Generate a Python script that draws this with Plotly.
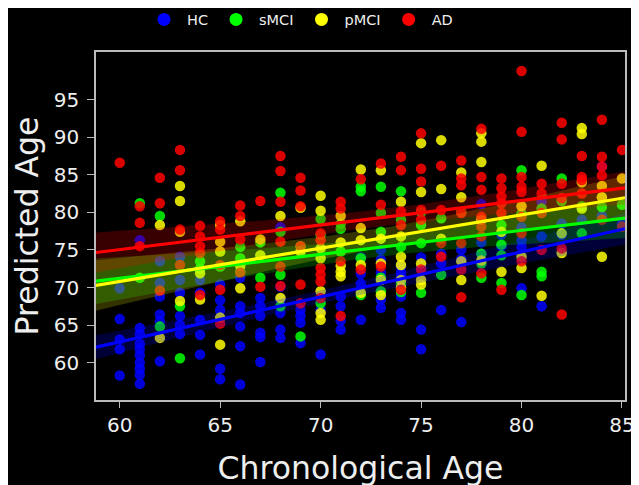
import numpy as np
import plotly.graph_objects as go

# ---------------- data (age -> predicted ages) ----------------
hc_ages = [60, 61, 62, 63, 64, 65, 66, 67, 68, 69, 70, 71, 72, 73, 74, 75, 76, 77,
           78, 79, 80, 81, 82, 83, 84, 85]
hc_vals = [
    [69.9, 65.8, 63.1, 61.8, 58.3],
    [76.3, 64.6, 63.8, 62.5, 61.8, 61.0, 60.0, 59.2, 58.4, 57.2],
    [73.5, 70.6, 68.8, 66.4, 65.5, 60.2],
    [74.1, 71.0, 69.3, 66.2, 65.0, 63.8],
    [71.0, 69.3, 65.7, 63.7, 61.1],
    [70.4, 68.3, 67.0, 59.2, 57.8],
    [71.3, 67.5, 66.6, 64.8, 62.2, 57.1],
    [68.6, 67.5, 66.2, 64.0, 63.4, 60.1],
    [78.0, 70.1, 68.4, 66.6, 64.4, 63.3],
    [67.0, 66.2, 65.3, 62.6],
    [67.0, 61.1],
    [68.8, 67.5, 65.6, 64.4],
    [74.0, 71.8, 70.5, 65.7],
    [75.0, 73.7, 72.0, 68.4, 67.3],
    [72.8, 72.0, 71.4, 68.8, 66.6, 65.7],
    [74.0, 72.6, 64.4, 61.8],
    [74.5, 73.2, 67.0],
    [75.0, 73.8, 65.4],
    [81.1, 76.0, 74.5],
    [77.0, 75.5],
    [78.0, 76.3, 75.4, 69.9],
    [81.4, 76.8, 67.5],
    [78.5, 77.0],
    [79.0],
    [86.1, 79.5],
    [78.5],
]

smci_ages = [61, 62, 63, 64, 65, 66, 67, 68, 69, 70, 71, 72, 73, 74, 75, 76, 77, 78, 79,
             80, 81, 82, 83, 84, 85]
smci_vals = [
    [81.2, 71.3],
    [79.5, 64.8],
    [67.5, 60.6],
    [73.5, 72.5],
    [72.8],
    [75.4, 73.9, 72.1],
    [76.0, 71.3],
    [82.6, 77.4, 71.7, 67.5],
    [75.5, 63.5],
    [79.1, 77.0, 67.9],
    [78.5, 77.8, 74.8],
    [83.4, 82.8, 73.9, 69.0],
    [83.4, 79.9, 77.4, 71.3, 69.5],
    [82.8, 79.0, 75.4, 70.5, 69.4],
    [80.0, 78.3, 75.9, 69.3],
    [79.2, 71.7],
    [80.0],
    [74.5, 73.2, 71.3],
    [78.3, 75.7, 74.3, 70.6],
    [85.6, 79.8, 69.0],
    [80.5, 72.1, 71.5],
    [84.5, 81.5],
    [80.8, 77.2],
    [82.0, 80.7],
    [81.0],
]

pmci_ages = [62, 63, 64, 65, 66, 67, 68, 69, 70, 71, 72, 73, 74, 75, 76, 77, 78, 79,
             80, 81, 82, 83, 84, 85]
pmci_vals = [
    [78.3, 63.3],
    [83.5, 81.5, 77.4, 68.2],
    [71.9, 68.4],
    [78.3, 76.1, 74.8, 66.0, 62.4],
    [78.8, 72.9, 69.9],
    [76.4, 74.3],
    [79.5, 68.6],
    [80.6, 74.8],
    [82.2, 80.2, 75.2, 73.9, 69.5, 66.6, 65.7],
    [79.5, 76.0, 72.9, 72.1, 71.5],
    [85.7, 77.9, 76.3, 73.0, 69.3],
    [85.6, 76.5, 73.2, 71.0, 69.0],
    [81.4, 76.8, 74.1, 73.0, 71.0, 70.0],
    [89.2, 82.7, 73.2, 71.0, 70.4],
    [89.6, 83.1, 76.5],
    [85.3, 82.0, 73.5, 71.0],
    [90.5, 89.4, 86.7, 79.0, 73.6],
    [77.4, 72.1],
    [80.8, 74.1, 72.6],
    [86.2, 68.9],
    [77.2, 74.6],
    [91.2, 90.4, 84.0, 80.5],
    [83.5, 82.0, 74.1],
    [84.5],
]

ad_ages = [60, 61, 62, 63, 64, 65, 66, 67, 68, 69, 70, 71, 72, 73, 74, 75, 76, 77, 78,
           79, 80, 81, 82, 83, 84, 85]
ad_vals = [
    [86.6],
    [80.8, 78.6, 75.5],
    [84.6, 81.2, 69.6],
    [88.3, 85.6, 77.7, 73.0],
    [78.2, 76.8, 75.5, 74.6, 69.0],
    [78.8, 77.7, 73.0, 69.7, 65.2],
    [80.9, 79.5, 76.4, 72.0],
    [81.5, 70.1],
    [87.5, 85.5, 81.4, 76.1, 72.8, 70.2],
    [84.6, 82.9, 80.8, 75.5, 70.4, 67.9],
    [77.2, 76.3, 72.6, 71.7, 70.8, 68.6],
    [81.4, 80.5, 73.5, 66.2],
    [84.4, 72.4],
    [86.5, 81.0, 72.8],
    [87.4, 85.6, 80.1, 78.3, 69.7],
    [90.5, 85.8, 84.1, 80.3, 79.0, 72.4],
    [86.2, 80.3, 75.9, 74.1],
    [86.9, 84.5, 83.6, 79.9, 75.9, 72.4, 68.7],
    [91.1, 84.7, 83.0, 79.4, 78.1, 76.8, 71.9],
    [84.5, 83.2, 82.1, 81.2, 79.9, 69.7],
    [98.8, 90.7, 84.7, 83.4, 82.7, 79.4, 77.2, 73.5],
    [83.8, 82.5, 79.9, 75.0],
    [91.9, 89.7, 83.8, 81.9, 75.2, 66.4],
    [87.5, 84.7, 84.3, 82.5],
    [92.3, 87.4, 86.1, 84.9, 79.0],
    [88.3, 78.1],
]

groups = ["HC", "sMCI", "pMCI", "AD"]
colors = ["#0000ff", "#00ff00", "#ffff00", "#ff0000"]
band_colors = ["rgba(0,0,255,0.22)", "rgba(0,255,0,0.2)", "rgba(255,255,0,0.2)", "rgba(255,0,0,0.22)"]
x_ticks = [60, 65, 70, 75, 80, 85]
y_ticks = [60, 65, 70, 75, 80, 85, 90, 95]
x_range = [58.82, 85.15]
y_range = [55.04, 101.32]

all_data = [(hc_ages, hc_vals), (smci_ages, smci_vals), (pmci_ages, pmci_vals), (ad_ages, ad_vals)]


def expand(ages, vals):
    xs, ys = [], []
    for a, vs in zip(ages, vals):
        for v in vs:
            xs.append(a)
            ys.append(v)
    return np.array(xs, float), np.array(ys, float)


fig = go.Figure()

# scatter points
expanded = []
for name, col, (ages, vals) in zip(groups, colors, all_data):
    x, y = expand(ages, vals)
    expanded.append((x, y))
    fig.add_trace(go.Scatter(x=x, y=y, mode="markers", name=name, showlegend=False,
                             marker=dict(color=col, size=10.5, opacity=0.85, line=dict(width=0))))

# regression lines with 95% CI bands
xg = np.linspace(x_range[0], x_range[1], 100)
for name, col, bcol, (x, y) in zip(groups, colors, band_colors, expanded):
    n = len(x)
    b, a = np.polyfit(x, y, 1)
    yhat = a + b * xg
    resid = y - (a + b * x)
    s = np.sqrt(np.sum(resid ** 2) / (n - 2))
    sxx = np.sum((x - x.mean()) ** 2)
    t = 1.96 + 2.4 / (n - 2)
    se = s * np.sqrt(1.0 / n + (xg - x.mean()) ** 2 / sxx)
    fig.add_trace(go.Scatter(x=np.concatenate([xg, xg[::-1]]),
                             y=np.concatenate([yhat + t * se, (yhat - t * se)[::-1]]),
                             fill="toself", fillcolor=bcol, line=dict(width=0),
                             mode="lines", hoverinfo="skip", showlegend=False))
for name, col, (x, y) in zip(groups, colors, expanded):
    b, a = np.polyfit(x, y, 1)
    fig.add_trace(go.Scatter(x=xg, y=a + b * xg, mode="lines",
                             line=dict(color=col, width=3.2), showlegend=False))

# legend entries (larger symbols, like the reference)
for name, col in zip(groups, colors):
    fig.add_trace(go.Scatter(x=[None], y=[None], mode="markers", name=name,
                             marker=dict(color=col, size=13)))

W, H = 639, 485
L, R, T, B = 88, 15, 44, 93

fig.update_layout(
    width=W, height=H,
    margin=dict(l=L, r=R, t=T, b=B, pad=0),
    paper_bgcolor="black",
    plot_bgcolor="black",
    font=dict(family="DejaVu Sans", color="#eeeeee"),
    showlegend=True,
    legend=dict(orientation="h", xref="container", yref="container",
                x=133 / W, xanchor="left", y=1 - 11.5 / H, yanchor="middle",
                font=dict(size=14.5, color="#eeeeee"), bgcolor="rgba(0,0,0,0)",
                itemwidth=36, itemclick=False),
    xaxis=dict(range=x_range, tickvals=x_ticks, ticks="outside", ticklen=6,
               tickcolor="#bbbbbb", tickwidth=1.3, showgrid=False, zeroline=False,
               showline=True, linecolor="#bbbbbb", linewidth=1.5, mirror=True,
               ticklabeloverflow="allow",
               tickfont=dict(size=20, color="#eeeeee"),
               title=dict(text="Chronological Age", font=dict(size=31.5, color="#eeeeee"), standoff=21)),
    yaxis=dict(range=y_range, tickvals=y_ticks, ticks="outside", ticklen=7,
               tickcolor="#bbbbbb", tickwidth=1.3, showgrid=False, zeroline=False,
               showline=True, linecolor="#bbbbbb", linewidth=1.5, mirror=True,
               ticklabelstandoff=4, ticklabeloverflow="allow",
               tickfont=dict(size=20, color="#eeeeee"),
               title=dict(text="Predicted Age", font=dict(size=31.5, color="#eeeeee"), standoff=6)),
)

fig.write_html("out.html")
